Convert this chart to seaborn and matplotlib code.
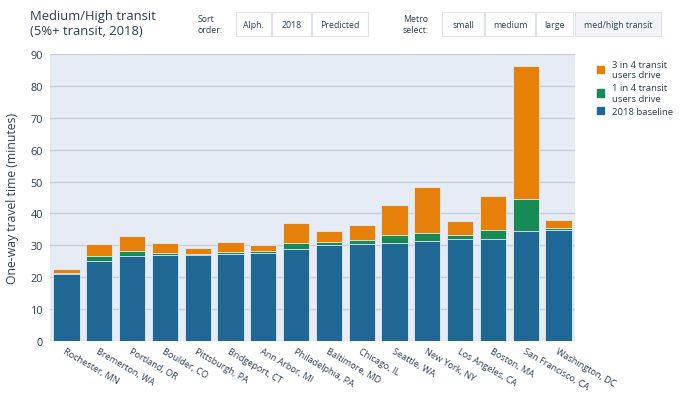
import pandas as pd
import matplotlib.pyplot as plt
import seaborn as sns
from matplotlib.patches import Rectangle, Patch

# Data (minutes)
cities = ['Rochester, MN', 'Bremerton, WA', 'Portland, OR', 'Boulder, CO',
          'Pittsburgh, PA', 'Bridgeport, CT', 'Ann Arbor, MI', 'Philadelphia, PA',
          'Baltimore, MD', 'Chicago, IL', 'Seattle, WA', 'New York, NY',
          'Los Angeles, CA', 'Boston, MA', 'San Francisco, CA', 'Washington, DC']
baseline = [21.1, 25.2, 26.8, 26.9, 27.0, 27.3, 27.7, 29.0,
            30.2, 30.4, 30.7, 31.5, 31.9, 32.1, 34.5, 34.7]
one_in_four = [0.3, 1.5, 1.4, 0.7, 0.4, 0.5, 0.6, 1.6,
               0.9, 1.2, 2.6, 2.5, 1.2, 2.7, 10.0, 0.7]
three_in_four = [1.3, 3.7, 4.7, 3.1, 1.8, 3.1, 1.8, 6.3,
                 3.4, 4.8, 9.5, 14.3, 4.5, 10.6, 41.7, 2.6]

df = pd.DataFrame({'city': cities, 'baseline': baseline,
                   'one': one_in_four, 'three': three_in_four})
df['lvl1'] = df['baseline'] + df['one']
df['lvl2'] = df['lvl1'] + df['three']

c_base = '#1f6896'
c_green = '#178a55'
c_orange = '#e68009'
txt = '#2a3f5f'

plt.rcParams['font.family'] = ['Open Sans', 'DejaVu Sans']
fig = plt.figure(figsize=(6.8, 4.02), dpi=100)
ax = fig.add_axes([50/680, 1 - 342/402, 525/680, 287/402])
ax.set_facecolor('#e5ecf6')

# overlay cumulative totals to get stacked bars
for col, colr in [('lvl2', c_orange), ('lvl1', c_green), ('baseline', c_base)]:
    sns.barplot(data=df, x='city', y=col, color=colr, width=0.8,
                edgecolor='#e5ecf6', linewidth=0.6, saturation=1, ax=ax, zorder=3)

ax.set_ylim(0, 90)
ax.set_yticks(range(0, 91, 10))
ax.set_xlim(-0.5, len(cities) - 0.5)
ax.grid(axis='y', color='#c9d0da', linewidth=1, zorder=0)
ax.set_axisbelow(True)
for s in ax.spines.values():
    s.set_visible(False)
ax.tick_params(length=0, colors=txt, labelsize=7.8)
ax.tick_params(axis='y', pad=5)
ax.set_xlabel('')
ax.set_ylabel('One-way travel time (minutes)', color=txt, fontsize=8.8, labelpad=8)
plt.setp(ax.get_xticklabels(), rotation=-30, ha='left', rotation_mode='anchor',
         fontsize=6.6)
ax.tick_params(axis='x', pad=4)

# legend
handles = [Patch(color=c_orange, label='3 in 4 transit\nusers drive'),
           Patch(color=c_green, label='1 in 4 transit\nusers drive'),
           Patch(color=c_base, label='2018 baseline')]
fig.legend(handles=handles, loc='upper left', bbox_to_anchor=(588/680, 1 - 52/402),
           frameon=False, fontsize=6.8, labelcolor=txt, handlelength=0.8,
           handleheight=0.8, handletextpad=0.8, labelspacing=0.45)

# title
fig.text(30/680, 1 - 10/402, 'Medium/High transit\n(5%+ transit, 2018)', color=txt,
         fontsize=9.4, va='top', ha='left', linespacing=1.2)


# buttons
def button(x0, x1, label, fc='white'):
    fig.add_artist(Rectangle((x0/680, 1 - 37/402), (x1 - x0)/680, 24/402,
                             transform=fig.transFigure, fc=fc, ec='#dfe3ea', lw=0.8))
    fig.text((x0 + x1)/2/680, 1 - 25/402, label, fontsize=6.3, color=txt,
             ha='center', va='center')


fig.text(198/680, 1 - 25/402, 'Sort\norder:', fontsize=6.3, color=txt,
         ha='left', va='center', linespacing=1.2)
button(236, 271, 'Alph.')
button(272, 311, '2018')
button(312, 368, 'Predicted')
fig.text(403/680, 1 - 25/402, 'Metro\nselect:', fontsize=6.3, color=txt,
         ha='left', va='center', linespacing=1.2)
button(442, 484, 'small')
button(485, 535, 'medium')
button(536, 573, 'large')
button(575, 661, 'med/high transit', fc='#f1f4f9')

fig.savefig('out.png', dpi=100)
plt.close()
